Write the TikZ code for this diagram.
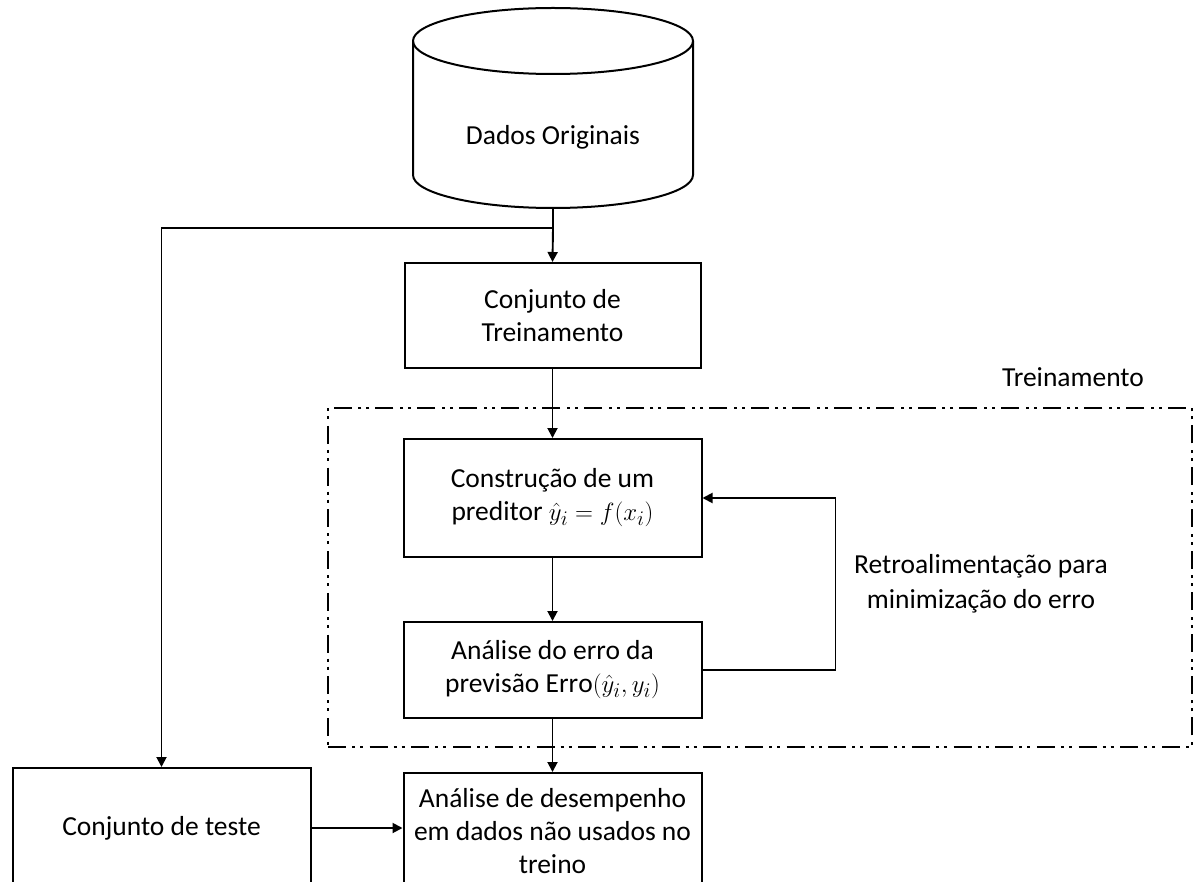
\documentclass[tikz,border=0pt]{standalone}
\usepackage{fontspec}
\setmainfont{Carlito}
\usetikzlibrary{arrows.meta}
\tikzset{
  box/.style={draw, line width=2pt, minimum width=298pt, align=center, inner sep=2pt, font=\fontsize{27.5}{33}\selectfont},
  lbl/.style={align=center, font=\fontsize{27.5}{35}\selectfont},
  conn/.style={line width=1.9pt, -{Triangle[length=10pt,width=10pt]}},
  line/.style={line width=1.9pt},
  dashbox/.style={draw, line width=1.8pt, dash pattern=on 18pt off 6pt on 3pt off 5pt on 3pt off 6.7pt, minimum width=864pt, minimum height=339pt}
}
\begin{document}
\begin{tikzpicture}[x=1pt,y=-1pt]
\clip (0,0) rectangle (1194,882);
\fill[white] (0,0) rectangle (1194,882);
% cylinder
\draw[line width=2pt] (413,41) arc[start angle=180,end angle=-180,x radius=140pt,y radius=33pt];
\draw[line width=2pt] (413,41) -- (413,175) arc[start angle=180,end angle=360,x radius=140pt,y radius=33pt] -- (693,41);
\node[lbl] (dados) at (553,137) {Dados Originais};
\coordinate (dadosbot) at (553,208);
\coordinate (junc) at (553,228);
% boxes
\node[box, minimum width=296pt, minimum height=105pt] (treino) at (552.5,315.5) {Conjunto de\\Treinamento};
\node[dashbox] (trainbox) at (760,577.5) {};
\node[lbl] (trainlbl) at (1073,377) {Treinamento};
\node[box, minimum height=118pt] (constr) at (552.5,498) {Construção de um\\preditor $\hat{y}_i = f(x_i)$};
\node[box, minimum height=96pt] (erro) at (552.5,670) {Análise do erro da\\previsão $\mathrm{Erro}(\hat{y}_i, y_i)$};
\node[box, minimum height=116pt] (desemp) at (552.5,831) {Análise de desempenho\\em dados não usados no\\treino};
\node[box, minimum height=120pt] (teste) at (161.5,828) {Conjunto de teste};
\node[lbl] (retro) at (981,584) {Retroalimentação para\\minimização do erro};
% connectors
\draw[line] (dadosbot) -- (junc);
\draw[conn] (junc) -- (treino.north);
\draw[conn] (junc) -| (teste.north);
\draw[conn] (treino.south) -- (constr.north);
\draw[conn] (constr.south) -- (erro.north);
\draw[conn] (erro.south) -- (desemp.north);
\draw[conn] (erro.east) -- ++(133,0) |- (constr.east);
\draw[conn] (teste.east) -- (teste.east -| desemp.west);
\end{tikzpicture}
\end{document}
